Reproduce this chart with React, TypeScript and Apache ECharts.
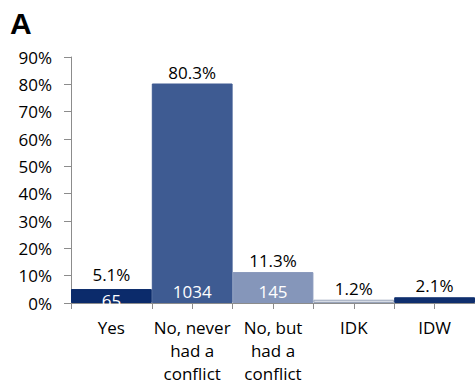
import React, { useEffect, useRef } from "react";
import * as echarts from "echarts";

const categories = ["Yes", "No, never\nhad a\nconflict", "No, but\nhad a\nconflict", "IDK", "IDW"];
const percents = [5.1, 80.3, 11.3, 1.2, 2.1];
const counts: (number | null)[] = [65, 1034, 145, null, null];
const barColors = ["#0B2B6B", "#3E5B92", "#8596BA", "#D6DBE4", "#0F2F6E"];
const barBorders = ["#0B2B6B", "#3E5B92", "#8596BA", "#9AA5BA", "#0F2F6E"];
const yTicks = [0, 10, 20, 30, 40, 50, 60, 70, 80, 90];

const FONT = "'Open Sans', 'Noto Sans', sans-serif";
const FS = 17;

export default function App() {
  const ref = useRef<HTMLDivElement>(null);
  useEffect(() => {
    if (!ref.current) return;
    const chart = echarts.init(ref.current, undefined, { renderer: "svg" });
    chart.setOption({
      animation: false,
      backgroundColor: "#ffffff",
      title: {
        text: "A",
        left: 5,
        top: 3,
        textStyle: { fontFamily: "'Liberation Sans', Arial, sans-serif", fontSize: 30, fontWeight: "bold", color: "#000" },
      },
      grid: { left: 71, right: 0, top: 57, bottom: 81, containLabel: false },
      xAxis: [
        {
          type: "category",
          data: categories,
          axisLine: { show: true, lineStyle: { color: "#8c8c8c", width: 1 } },
          axisTick: { show: true, alignWithLabel: false, interval: 0, length: 6, lineStyle: { color: "#8c8c8c" } },
          axisLabel: {
            interval: 0,
            margin: 13,
            color: "#000",
            fontFamily: FONT,
            fontSize: FS,
            lineHeight: 23,
          },
        },
        {
          type: "category",
          data: categories,
          position: "bottom",
          axisLine: { show: false },
          axisTick: {
            show: true,
            alignWithLabel: true,
            interval: (i: number) => i !== 0,
            length: 6,
            lineStyle: { color: "#8c8c8c" },
          },
          axisLabel: { show: false },
        },
      ],
      yAxis: {
        type: "value",
        min: yTicks[0],
        max: yTicks[yTicks.length - 1],
        interval: 10,
        axisLine: { show: true, lineStyle: { color: "#8c8c8c" } },
        axisTick: { show: true, length: 7, lineStyle: { color: "#8c8c8c" } },
        splitLine: { show: false },
        axisLabel: {
          formatter: "{value}%",
          margin: 19,
          color: "#000",
          fontFamily: FONT,
          fontSize: FS,
        },
      },
      series: [
        {
          type: "bar",
          barCategoryGap: "0%",
          barGap: "-100%",
          data: percents.map((v, i) => ({
            value: v,
            itemStyle: { color: barColors[i], borderColor: barBorders[i], borderWidth: 1 },
            label: { distance: i === 0 ? 6 : 3 },
          })),
          label: {
            show: true,
            position: "top",
            distance: 3,
            formatter: (p: any) => p.value.toFixed(1) + "%",
            color: "#000",
            fontFamily: FONT,
            fontSize: FS,
          },
        },
        {
          type: "bar",
          barCategoryGap: "0%",
          barGap: "-100%",
          silent: true,
          data: percents.map((v, i) => ({
            value: counts[i] == null ? null : v,
            itemStyle: { color: "rgba(0,0,0,0)" },
            label: {
              show: counts[i] != null,
              position: i === 0 ? "inside" : "insideBottom",
              distance: 3,
              formatter: () => String(counts[i]),
              color: "#ffffff",
              fontFamily: FONT,
              fontSize: FS,
              offset: i === 0 ? [0, 4] : [0, 0],
            },
          })),
        },
      ],
    });
    return () => chart.dispose();
  }, []);
  return <div ref={ref} style={{ width: 475, height: 385, position: "absolute", left: 0, top: 0 }} />;
}
